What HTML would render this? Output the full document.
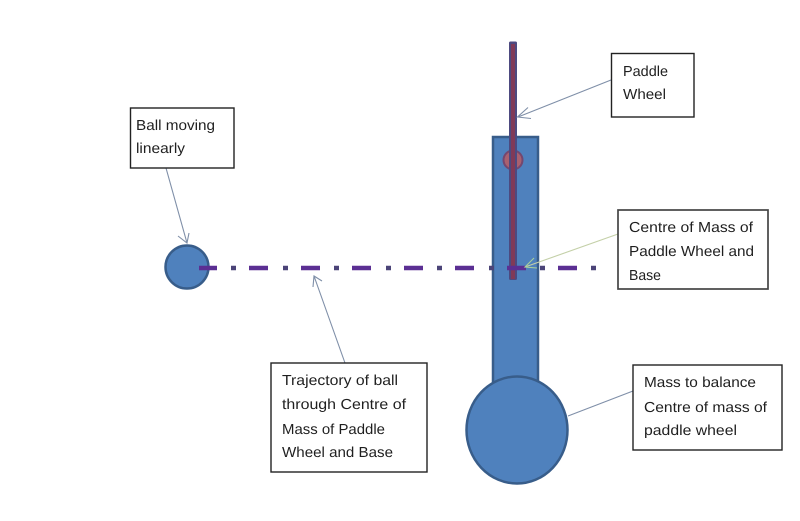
<!DOCTYPE html>
<html>
<head>
<meta charset="utf-8">
<style>
html,body{margin:0;padding:0;background:#fff;width:800px;height:521px;overflow:hidden}
svg{display:block}
text{font-family:"Liberation Sans",sans-serif;font-size:14.5px;fill:#1f1f1f;text-rendering:geometricPrecision}
.box{fill:#fff;stroke:#222;stroke-width:1.4}
.sh{fill:#4f81bd;stroke:#385d8a;stroke-width:2.5}
.c{fill:none;stroke:#7f8fa8;stroke-width:1.1}
</style>
</head>
<body>
<svg width="800" height="521" viewBox="0 0 800 521" xmlns="http://www.w3.org/2000/svg">
<rect x="493" y="137" width="45" height="250" class="sh"/>
<circle cx="513" cy="160" r="9.500" fill="#a9606f" stroke="#74476f" stroke-width="2"/>
<ellipse cx="517" cy="430" rx="50.500" ry="53.500" class="sh"/>
<circle cx="187" cy="267" r="21.500" class="sh"/>
<rect x="509" y="41.500" width="8" height="238.500" rx="1.500" fill="#4d4a80"/>
<rect x="511" y="44" width="4" height="235" fill="#803a58"/>
<path d="M199 268h18M249 268h19M301 268h19M352 268h19M404 268h19M455 268h19M507 268h19M558 268h19" stroke="#5b2f93" stroke-width="4.500" fill="none"/>
<path d="M231 268h5M283 268h5M334 268h5M386 268h5M437 268h5M489 268h5M540 268h5M591 268h5" stroke="#4b4478" stroke-width="4.500" fill="none"/>
<path class="c" d="M611 80 518 117M528 107.500 517.500 117 531 118.500"/>
<path class="c" style="stroke:#c4d0a8" d="M618 234 525 267"/>
<path class="c" style="stroke:#a9cf9a" d="M534 258 525 267 537 268"/>
<path class="c" d="M166 168 187 243M178 236 187 243 189 233"/>
<path class="c" d="M345 363 314 276M313 287 314 276 322 281"/>
<path class="c" d="M633 391 568 416"/>
<rect x="130.500" y="108" width="103.500" height="60" class="box"/>
<rect x="611.500" y="53.500" width="82.500" height="63.500" class="box"/>
<rect x="618" y="210" width="150" height="79" class="box" style="stroke:#444;stroke-width:1.700"/>
<rect x="271" y="363" width="156" height="109" class="box"/>
<rect x="633" y="365" width="149" height="85" class="box"/>
<text x="136" y="130" textLength="79" lengthAdjust="spacingAndGlyphs">Ball moving</text>
<text x="136" y="153" textLength="49" lengthAdjust="spacingAndGlyphs">linearly</text>
<text x="623" y="76" textLength="45" lengthAdjust="spacingAndGlyphs">Paddle</text>
<text x="623" y="99" textLength="43" lengthAdjust="spacingAndGlyphs">Wheel</text>
<text x="629" y="232" textLength="124" lengthAdjust="spacingAndGlyphs">Centre of Mass of</text>
<text x="629" y="256" textLength="125" lengthAdjust="spacingAndGlyphs">Paddle Wheel and</text>
<text x="629" y="280" textLength="32" lengthAdjust="spacingAndGlyphs">Base</text>
<text x="282" y="385" textLength="116" lengthAdjust="spacingAndGlyphs">Trajectory of ball</text>
<text x="282" y="409" textLength="124" lengthAdjust="spacingAndGlyphs">through Centre of</text>
<text x="282" y="434" textLength="103" lengthAdjust="spacingAndGlyphs">Mass of Paddle</text>
<text x="282" y="457" textLength="111" lengthAdjust="spacingAndGlyphs">Wheel and Base</text>
<text x="644" y="387" textLength="112" lengthAdjust="spacingAndGlyphs">Mass to balance</text>
<text x="644" y="412" textLength="123" lengthAdjust="spacingAndGlyphs">Centre of mass of</text>
<text x="644" y="435" textLength="93" lengthAdjust="spacingAndGlyphs">paddle wheel</text>
</svg>
</body>
</html>
